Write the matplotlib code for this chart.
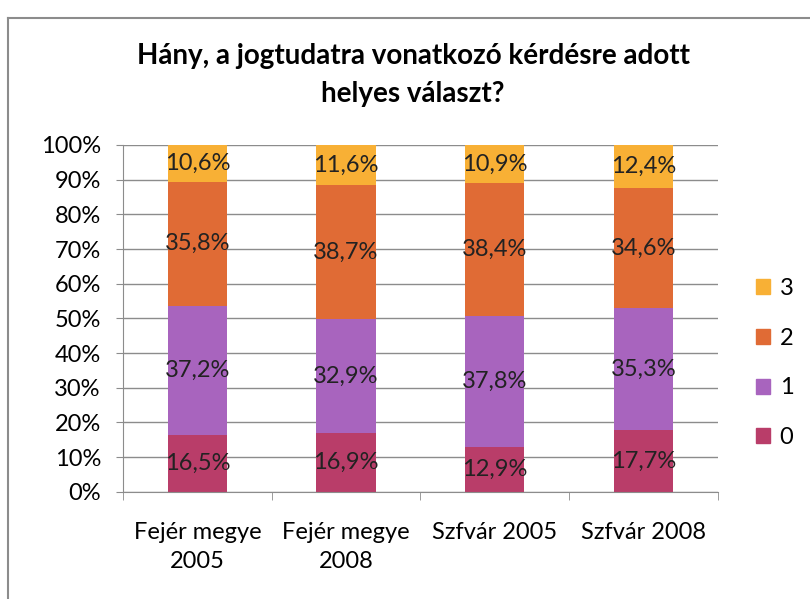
import matplotlib.pyplot as plt
from matplotlib.lines import Line2D
from matplotlib.patches import Patch
from matplotlib import font_manager
import numpy as np

categories = ['Fejér megye\n2005', 'Fejér megye\n2008', 'Szfvár 2005', 'Szfvár 2008']
series_names = ['0', '1', '2', '3']
vals_0 = [16.5, 16.9, 12.9, 17.7]
vals_1 = [37.2, 32.9, 37.8, 35.3]
vals_2 = [35.8, 38.7, 38.4, 34.6]
vals_3 = [10.6, 11.6, 10.9, 12.4]
colors = ['#B93D69', '#A864BE', '#E06B35', '#F8B035']
title = 'Hány, a jogtudatra vonatkozó kérdésre adott\nhelyes választ?'

names = {f.name for f in font_manager.fontManager.ttflist}
fam = 'Liberation Sans Narrow' if 'Liberation Sans Narrow' in names else 'Lato'
plt.rcParams['font.family'] = [fam, 'DejaVu Sans']

fig = plt.figure(figsize=(8.1, 5.99), dpi=100)
ax = fig.add_axes([0.152, 0.179, 0.734, 0.579])

data = np.array([vals_0, vals_1, vals_2, vals_3])
shares = data / data.sum(axis=0) * 100
x = np.arange(len(categories))
bottom = np.zeros(len(categories))
for i, name in enumerate(series_names):
    ax.bar(x, shares[i], 0.4, bottom=bottom, color=colors[i], zorder=2)
    for j in range(len(categories)):
        ax.text(x[j], bottom[j] + shares[i][j] / 2, f'{data[i][j]:.1f}%'.replace('.', ','),
                ha='center', va='center', fontsize=17, color='#222222', zorder=3)
    bottom += shares[i]

ax.set_xlim(-0.5, len(categories) - 0.5)
ax.set_ylim(0, 100)
ax.set_yticks(np.arange(0, 101, 10))
ax.set_yticklabels([f'{v}%' for v in range(0, 101, 10)], fontsize=17)
ax.yaxis.grid(True, color='#8c8c8c', linewidth=1, zorder=0)
ax.set_xticks(x)
ax.set_xticklabels(categories, fontsize=17, linespacing=1.45)
ax.set_xticks(np.arange(-0.5, len(categories)), minor=True)
ax.tick_params(axis='x', which='major', length=0, pad=22)
ax.tick_params(axis='x', which='minor', length=6, color='#8c8c8c', direction='out')
ax.tick_params(axis='y', length=5, color='#8c8c8c', direction='out', pad=11)
for s in ['top', 'right']:
    ax.spines[s].set_visible(False)
for s in ['left', 'bottom']:
    ax.spines[s].set_color('#8c8c8c')

fig.suptitle(title, x=0.51, y=0.928, fontsize=20, fontweight='bold', linespacing=1.55)

handles = [Patch(color=colors[i], label=series_names[i]) for i in range(3, -1, -1)]
fig.legend(handles=handles, loc='center left', bbox_to_anchor=(0.907, 0.394),
           frameon=False, fontsize=17, handlelength=0.6, handleheight=0.6,
           labelspacing=1.22, handletextpad=0.4)

# outer chart border
fig.add_artist(Line2D([0.01, 0.01], [0, 0.97], color='#8c8c8c', linewidth=1.5))
fig.add_artist(Line2D([0.01, 1.0], [0.97, 0.97], color='#8c8c8c', linewidth=1.5))

fig.savefig('out.png', dpi=100)
